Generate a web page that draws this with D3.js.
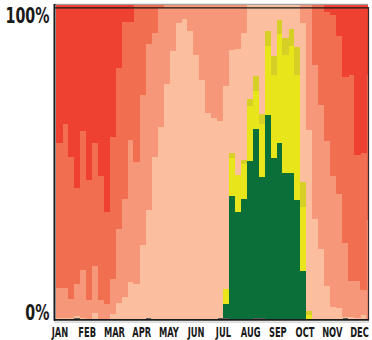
<!DOCTYPE html>
<html><head><meta charset="utf-8">
<script src="https://cdn.jsdelivr.net/npm/d3@7"></script>
<style>html,body{margin:0;padding:0;background:#fff}</style>
</head><body>
<svg id="chart" width="372" height="340"></svg>
<script>
(function(){
// 53 weekly bars (last one partly outside the frame)
const weeks = [0,1,2,3,4,5,6,7,8,9,10,11,12,13,14,15,16,17,18,19,20,21,22,23,24,25,26,
  27,28,29,30,31,32,33,34,35,36,37,38,39,40,41,42,43,44,45,46,47,48,49,50,51,52];
const monthLabels = ["JAN","FEB","MAR","APR","MAY","JUN","JUL","AUG","SEP","OCT","NOV","DEC"];
const yTickLabels = ["0%","100%"];

// series values (percent of week), bottom to top
const grey = [0,0,0,0.3,0,0,0,0,0,0, 0,0,0,0,0,0.3,0,0,0,0, 0,0,0,0,0,0,0,0.3,0.3,0,
  0,0,0,0.3,0.3,0,0,0,0,0, 0,0,0,0,0,0,0,0,0.3,0, 0,0,0];
const green = [0,0,0,0,0,0,0,0,0,0, 0,0,0,0,0,0,0,0,0,0, 0,0,0,0,0,0,0,0,4.2,39.0,
  34.0,38.0,50.2,60.1,44.8,64.9,51.2,56.0,46.4,46.4, 37.7,15.0,0,0,0,0,0,0,0,0, 0,0,0];
const yellow = [0,0,0,0,0,0,0,0,0,0, 0,0,0,0,0,0,0,0,0,0, 0,0,0,0,0,0,0,0,4.8,12.1,
  11.7,11.2,17.6,12.1,16.8,22.0,26.4,34.7,37.6,40.5, 39.9,20.5,1.0,0,0,0,0,0,0,0, 0,0,0];
const olive = [0,0,0,0,0,0,0,0,0,0, 0,0,0,0,0,0,0,0,0,0, 0,0,0,0,0,0,0,0,0,1.6,
  0,1.3,2.2,4.8,3.2,4.8,6.1,4.5,5.4,5.4, 8.9,8.2,1.4,0,0,0,0,0,0,0, 0,0,0];
const peach = [0.3,0.2,0.2,0.6,0.2,0,1.7,0,0,1.3, 4.9,6.8,11.5,11.1,23.3,34.2,51.5,61.1,74.8,85.3,
  94.2,95.5,91.7,84.0,76.0,65.6,64.1,62.7,64.9,32.9, 40.3,40.7,30.0,22.7,34.8,8.3,16.3,4.8,10.5,7.7,
  13.4,50.6,57.7,31.9,22.0,10.2,3.8,3.5,0.3,0.6, 0.3,1.0,0];
const salmon = [9.5,9.6,5.9,10.1,15.3,5.8,14.9,5.8,4.5,11.4, 23.5,31.2,45.4,38.8,47.9,53.0,39.6,37.9,25.2,14.7,
  5.8,4.5,8.3,16.0,24.0,34.4,35.9,37.0,25.9,14.4, 14.1,8.8,0,0,0,0,0,0,0,0,
  0,5.7,39.9,49.0,46.0,46.4,41.5,36.1,23.3,11.5, 11.8,8.0,31.3];
const orange = [46.2,52.2,45.5,30.5,44.5,38.3,39.4,39.7,29.5,45.1, 51.5,56.5,37.7,50.1,28.8,12.5,8.9,1.0,0,0,
  0,0,0,0,0,0,0,0,0,0, 0,0,0,0,0,0,0,0,0,0,
  0,0,0,19.2,31.9,41.1,51.4,50.5,53.1,65.5, 39.9,43.9,46.3];
const red = [44.0,38.0,48.5,58.4,40.2,55.9,44.0,54.5,66.0,42.2, 20.1,5.4,5.4,0,0,0,0,0,0,0,
  0,0,0,0,0,0,0,0,0,0, 0,0,0,0,0,0,0,0,0,0,
  0,0,0,0,0,2.2,3.2,9.9,22.9,22.4, 47.9,47.2,22.4];

const keys = ["grey","green","yellow","olive","peach","salmon","orange","red"];
const colors = {grey:"#5c5c5c", green:"#0b6f39", yellow:"#e8e51b", olive:"#d6d026",
  peach:"#fbbf9f", salmon:"#f7977a", orange:"#f26e51", red:"#ef4131"};
const seriesByKey = {grey, green, yellow, olive, peach, salmon, orange, red};
const table = weeks.map(w => {
  const row = {week: w};
  keys.forEach(k => row[k] = seriesByKey[k][w]);
  return row;
});

const svg = d3.select("#chart");
const pLeft = 56, pRight = 368, pTop = 5, pBottom = 318.5;
const step = 5.96;

const x = d3.scaleBand().domain(weeks).range([pLeft, pLeft + step * weeks.length]).padding(0);
const y = d3.scaleLinear().domain([0, 1]).range([pBottom, pTop]);

const stacked = d3.stack().keys(keys).offset(d3.stackOffsetExpand)(table);

svg.append("clipPath").attr("id","clip")
  .append("rect").attr("x", pLeft).attr("y", 0).attr("width", pRight - pLeft).attr("height", 340);

const plot = svg.append("g").attr("clip-path","url(#clip)").attr("shape-rendering","crispEdges");
plot.selectAll("g.layer").data(stacked).join("g")
  .attr("class","layer")
  .attr("fill", d => colors[d.key])
  .selectAll("rect").data(d => d).join("rect")
  .attr("x", d => x(d.data.week))
  .attr("width", x.bandwidth() + 0.6)
  .attr("y", d => y(d[1]))
  .attr("height", d => Math.max(0, y(d[0]) - y(d[1])));

// frame
const frame = svg.append("g");
frame.append("line").attr("x1", pLeft - 2).attr("x2", pRight).attr("y1", 4.3).attr("y2", 4.3)
  .attr("stroke", "#8a8a8a").attr("stroke-width", 1);
frame.append("line").attr("x1", pLeft - 2).attr("x2", pRight + 1).attr("y1", 7.8).attr("y2", 7.8)
  .attr("stroke", "#1a1a1a").attr("stroke-width", 1.3);
frame.append("line").attr("x1", pRight + 0.5).attr("x2", pRight + 0.5).attr("y1", 7).attr("y2", 320)
  .attr("stroke", "#3a2a2a").attr("stroke-width", 1.2);
frame.append("line").attr("x1", pLeft - 2).attr("x2", pRight + 1).attr("y1", y(0) + 1.3).attr("y2", y(0) + 1.3)
  .attr("stroke", "#1a1a1a").attr("stroke-width", 1.8);
frame.append("line").attr("x1", pLeft - 2).attr("x2", pRight + 1).attr("y1", y(0) + 3.6).attr("y2", y(0) + 3.6)
  .attr("stroke", "#b0b0b0").attr("stroke-width", 0.8);
frame.append("line").attr("x1", pLeft - 1.5).attr("x2", pLeft - 1.5).attr("y1", 4).attr("y2", y(0) + 2.2)
  .attr("stroke", "#1a1a1a").attr("stroke-width", 2);

const fontStack = "'Liberation Sans Narrow','DejaVu Sans Condensed','Arial Narrow',sans-serif";

// y labels (condensed to match the reference's narrow face)
const yLab = svg.append("g")
  .attr("font-family", fontStack)
  .attr("font-weight", "bold").attr("font-size", 20.5).attr("fill", "#1a1a1a")
  .attr("text-anchor", "end");
const yTexts = yLab.selectAll("text").data([0, 1]).join("text")
  .attr("x", 0).attr("y", 0)
  .text((d, i) => yTickLabels[i]);
const wide = yTexts.filter(d => d === 1).node().getComputedTextLength();
const ky = Math.min(1, 44 / wide);
yTexts.attr("transform", d => `translate(49.5,${d === 1 ? y(d) + 18.3 : y(d) + 1.8}) scale(${ky},1)`);

// month labels
const xm = d3.scalePoint().domain(monthLabels).range([60, 359.5]);
const mTexts = svg.append("g")
  .attr("font-family", fontStack)
  .attr("font-weight", "bold")
  .attr("font-size", 14).attr("fill", "#1a1a1a").attr("text-anchor", "middle")
  .selectAll("text").data(monthLabels).join("text")
  .attr("x", 0).attr("y", 0)
  .text(d => d);
const janW = mTexts.filter(d => d === "JAN").node().getComputedTextLength();
const km = Math.min(1, 16.5 / janW);
mTexts.attr("transform", d => `translate(${xm(d)},336.5) scale(${km},1)`);
})();
</script>
</body></html>
